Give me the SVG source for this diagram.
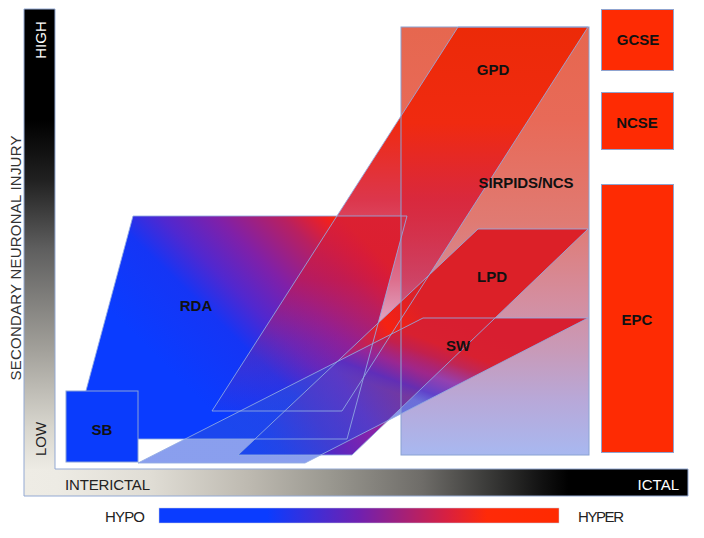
<svg xmlns="http://www.w3.org/2000/svg" width="704" height="538" viewBox="0 0 704 538">
<style>
.lbl{font-family:"Liberation Sans",Arial,sans-serif;font-weight:bold;font-size:15px;text-anchor:middle;fill:#111}
.ax{font-family:"Liberation Sans",Arial,sans-serif;font-size:15px}
.edge{fill:none;stroke:#93abe2;stroke-opacity:.85;stroke-width:1}
.box{fill:#fe2b03;stroke:#8fa3cf;stroke-width:1}
</style>
<defs>
<linearGradient id="gV" gradientUnits="userSpaceOnUse" x1="0" y1="9" x2="0" y2="469">
<stop offset="0" stop-color="#000"/><stop offset=".24" stop-color="#000"/><stop offset=".37" stop-color="#202020"/>
<stop offset=".52" stop-color="#5e5e5e"/><stop offset=".74" stop-color="#a2a09a"/><stop offset=".91" stop-color="#d8d6ce"/><stop offset="1" stop-color="#edebe4"/>
</linearGradient>
<linearGradient id="gH" gradientUnits="userSpaceOnUse" x1="24" y1="0" x2="688" y2="0">
<stop offset="0" stop-color="#eeece5"/><stop offset=".05" stop-color="#edebe4"/><stop offset=".19" stop-color="#e0ddd5"/>
<stop offset=".34" stop-color="#bdb9b0"/><stop offset=".46" stop-color="#9a9890"/><stop offset=".6" stop-color="#6e6c68"/>
<stop offset=".69" stop-color="#3f3f3d"/><stop offset=".78" stop-color="#111"/><stop offset=".82" stop-color="#000"/><stop offset="1" stop-color="#000"/>
</linearGradient>
<linearGradient id="gLeg" x1="0" y1="0" x2="1" y2="0">
<stop offset="0" stop-color="#0a3cff"/><stop offset=".27" stop-color="#0a3cff"/><stop offset=".5" stop-color="#7020b0"/>
<stop offset=".72" stop-color="#d82040"/><stop offset=".82" stop-color="#ff2a08"/><stop offset="1" stop-color="#ff2a00"/>
</linearGradient>
<linearGradient id="gRDA" gradientUnits="userSpaceOnUse" x1="180" y1="380" x2="340" y2="216">
<stop offset="0" stop-color="#0a3cff"/><stop offset=".3" stop-color="#1535f5"/><stop offset=".45" stop-color="#5028d0"/>
<stop offset=".62" stop-color="#8020a8"/><stop offset=".82" stop-color="#b82060"/><stop offset=".95" stop-color="#f02020"/><stop offset="1" stop-color="#ff2a00"/>
</linearGradient>
<linearGradient id="gRect" gradientUnits="userSpaceOnUse" x1="0" y1="27" x2="0" y2="455">
<stop offset="0" stop-color="#e6674f"/><stop offset=".22" stop-color="#e86a58"/><stop offset=".45" stop-color="#e07a72"/>
<stop offset=".64" stop-color="#d48ea0"/><stop offset=".755" stop-color="#c89ab8"/><stop offset=".87" stop-color="#b8a8d8"/><stop offset="1" stop-color="#a8b8f0"/>
</linearGradient>
<linearGradient id="gGPD" gradientUnits="userSpaceOnUse" x1="0" y1="27" x2="0" y2="411">
<stop offset="0" stop-color="#ec2a08"/><stop offset=".25" stop-color="#f02a10"/><stop offset=".45" stop-color="#d82038" stop-opacity=".9"/>
<stop offset=".66" stop-color="#c81848" stop-opacity=".62"/><stop offset=".82" stop-color="#b02070" stop-opacity=".3"/><stop offset="1" stop-color="#a03080" stop-opacity=".06"/>
</linearGradient>
<linearGradient id="gLPD" gradientUnits="userSpaceOnUse" x1="430" y1="320" x2="250" y2="440">
<stop offset="0" stop-color="#dc2028"/><stop offset=".18" stop-color="#f52212"/><stop offset=".32" stop-color="#c0205a"/>
<stop offset=".5" stop-color="#8a22a8"/><stop offset=".7" stop-color="#5a28c0"/><stop offset=".9" stop-color="#1a38f0"/><stop offset="1" stop-color="#0a3cff"/>
</linearGradient>
<linearGradient id="gSW" gradientUnits="userSpaceOnUse" x1="400" y1="445" x2="446" y2="318">
<stop offset="0" stop-color="#2a50e0" stop-opacity=".55"/><stop offset=".35" stop-color="#3a48d8" stop-opacity=".6"/>
<stop offset=".435" stop-color="#5030c8" stop-opacity=".85"/><stop offset=".565" stop-color="#8a28a8" stop-opacity=".8"/>
<stop offset=".7" stop-color="#c02050" stop-opacity=".95"/><stop offset=".8" stop-color="#d82030"/><stop offset="1" stop-color="#d81e30"/>
</linearGradient>
<polygon id="pRDA" points="73,439 347,439 407,216 133,216"/>
<rect id="pRect" x="401" y="27" width="188" height="428"/>
<polygon id="pGPD" points="212,411 342,411 588,27 458,27"/>
<polygon id="pLPD" points="238,455 352,455 588,229 478,229"/>
<polygon id="pSW" points="138,463 305,463 588,318 423,318"/>
</defs>
<rect width="704" height="538" fill="#fff"/>
<g id="axes">
<rect x="24" y="9" width="31" height="461" fill="url(#gV)"/>
<rect x="24" y="469" width="664" height="27" fill="url(#gH)"/>
<path d="M24,9 H55 V469 H688 V496 H24 Z" fill="none" stroke="#93a9d3" stroke-width="1"/>
<text class="ax" transform="translate(46,40) rotate(-90)" text-anchor="middle" fill="#fff">HIGH</text>
<text class="ax" transform="translate(46,439) rotate(-90)" text-anchor="middle" fill="#222">LOW</text>
<text class="ax" transform="translate(20.5,258) rotate(-90)" text-anchor="middle" fill="#333" textLength="245">SECONDARY NEURONAL INJURY</text>
<text class="ax" x="65" y="490" fill="#222" textLength="85">INTERICTAL</text>
<text class="ax" x="679" y="490" text-anchor="end" fill="#fff">ICTAL</text>
</g>
<g id="legend">
<rect x="159" y="508" width="400" height="15" fill="url(#gLeg)" stroke="#c8cbe0" stroke-width=".5"/>
<text class="ax" x="105" y="522" fill="#222" textLength="40">HYPO</text>
<text class="ax" x="578" y="522" fill="#222" textLength="46">HYPER</text>
</g>
<g id="rda"><use href="#pRDA" fill="url(#gRDA)"/></g>
<g id="sirpids-ncs"><use href="#pRect" fill="url(#gRect)"/></g>
<g id="gpd"><use href="#pGPD" fill="url(#gGPD)"/></g>
<g id="lpd"><use href="#pLPD" fill="url(#gLPD)"/></g>
<g id="sw"><use href="#pSW" fill="url(#gSW)"/></g>
<g id="outlines">
<use href="#pRDA" class="edge"/>
<use href="#pGPD" class="edge"/>
<use href="#pLPD" class="edge"/>
<use href="#pSW" class="edge"/>
<use href="#pRect" fill="none" stroke="#8aa2d2" stroke-width="1"/>
</g>
<g id="sb"><rect x="66" y="391" width="72" height="71" fill="#0a3cfc" stroke="#8aa2d8" stroke-width="1"/><text class="lbl" x="102" y="435">SB</text></g>
<g id="gcse"><rect class="box" x="601.5" y="9.5" width="72" height="61"/><text class="lbl" x="638" y="45">GCSE</text></g>
<g id="ncse"><rect class="box" x="601.5" y="92.5" width="72" height="57"/><text class="lbl" x="637" y="128">NCSE</text></g>
<g id="epc"><rect class="box" x="601.5" y="184.5" width="72" height="268"/><text class="lbl" x="637" y="325">EPC</text></g>
<g id="labels">
<text class="lbl" x="196" y="311">RDA</text>
<text class="lbl" x="493" y="75" fill="#b8281a">GPD</text>
<text class="lbl" x="526" y="188" textLength="95">SIRPIDS/NCS</text>
<text class="lbl" x="492" y="282" fill="#6a1030">LPD</text>
<text class="lbl" x="458" y="351" fill="#3a1040">SW</text>
</g>
<g id="connectors"/>
</svg>
